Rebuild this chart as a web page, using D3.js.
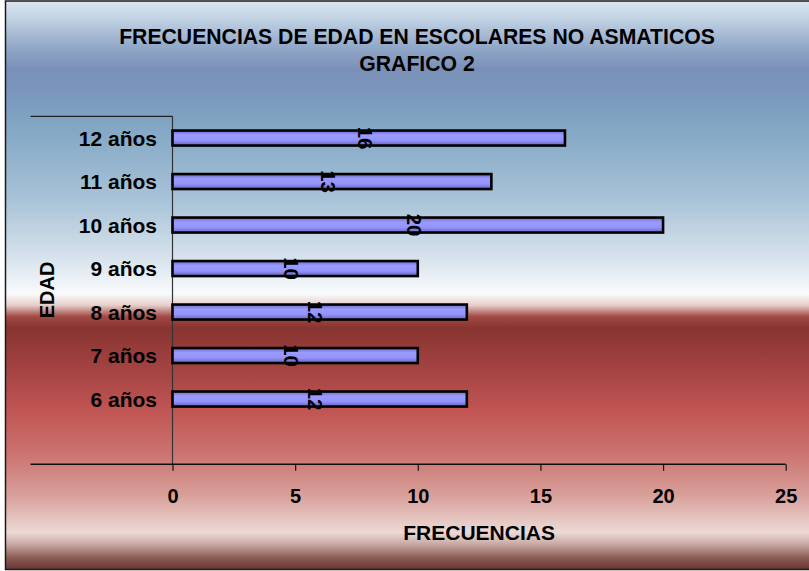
<!DOCTYPE html>
<html>
<head>
<meta charset="utf-8">
<script src="https://cdn.jsdelivr.net/npm/d3@7"></script>
<style>
  html, body { margin: 0; padding: 0; background: #ffffff; }
  svg { display: block; }
  text { font-family: "Liberation Sans", Arial, sans-serif; font-weight: bold; fill: #000; }
</style>
</head>
<body>
<svg id="chart" width="809" height="571"></svg>
<script>
// Age groups (bottom to top as listed) and how many schoolchildren fall in each
const categories = ["6 años", "7 años", "8 años", "9 años", "10 años", "11 años", "12 años"];
const frecuencias = [12, 10, 12, 10, 20, 13, 16];
const xTicks = [0, 5, 10, 15, 20, 25];

const titleLines = ["FRECUENCIAS DE EDAD EN ESCOLARES NO ASMATICOS", "GRAFICO 2"];
const xTitle = "FRECUENCIAS";
const yTitle = "EDAD";

const W = 809, H = 571;
const plot = { left: 172.5, right: 785.7, top: 116.3, bottom: 464.3, frameLeft: 30.5 };

const svg = d3.select("#chart");
const defs = svg.append("defs");

// Chart-area background: blue sky band on top, white horizon, red band below
const bg = defs.append("linearGradient").attr("id", "bgGrad")
  .attr("x1", 0).attr("y1", 0).attr("x2", 0).attr("y2", 1);
[
  [0.00, "#dbe6ef"], [0.03, "#c2d3e4"], [0.08, "#93a9c9"], [0.12, "#7a90b8"],
  [0.17, "#7b99bd"], [0.22, "#82a6c4"], [0.35, "#a8c3d8"], [0.45, "#d6e2ec"],
  [0.515, "#f9fbfc"], [0.535, "#e6cfcb"], [0.555, "#a24a45"], [0.575, "#883431"],
  [0.66, "#a84645"], [0.72, "#c05553"], [0.80, "#cc7572"], [0.87, "#d9a09b"],
  [0.935, "#ecdad6"], [0.955, "#c9aaa5"], [0.98, "#8a5a54"], [1.00, "#693530"]
].forEach(([o, c]) => bg.append("stop").attr("offset", o).attr("stop-color", c));

// Bar fill: slightly darker along top and bottom edges
const barGrad = defs.append("linearGradient").attr("id", "barGrad")
  .attr("x1", 0).attr("y1", 0).attr("x2", 0).attr("y2", 1);
[
  [0.0, "#6c6cc8"], [0.3, "#9a9aff"], [0.65, "#9494fb"], [1.0, "#6565c0"]
].forEach(([o, c]) => barGrad.append("stop").attr("offset", o).attr("stop-color", c));

svg.append("rect")
  .attr("x", 5.5).attr("y", 1).attr("width", W + 20).attr("height", H - 2.5)
  .attr("fill", "url(#bgGrad)").attr("stroke", "#1a1a1a").attr("stroke-width", 1.5);

// Title
svg.append("g").selectAll("text").data(titleLines).join("text")
  .attr("x", 417).attr("y", (d, i) => 44 + i * 26.5)
  .attr("text-anchor", "middle").attr("font-size", "21.2px")
  .text(d => d);

// Scales: one empty slot is left below the lowest age group
const x = d3.scaleLinear().domain([0, 25]).range([plot.left, plot.right]);
const slots = categories.length + 1;
const step = (plot.bottom - plot.top) / slots;
const y = d3.scaleBand()
  .domain(categories.slice().reverse())
  .range([plot.top, plot.top + step * categories.length])
  .paddingInner(0).paddingOuter(0);

// Frame lines around the category labels
svg.append("line")
  .attr("x1", plot.frameLeft).attr("x2", plot.left)
  .attr("y1", plot.top).attr("y2", plot.top)
  .attr("stroke", "#222").attr("stroke-width", 1.2);
svg.append("line")
  .attr("x1", plot.left).attr("x2", plot.left)
  .attr("y1", plot.top).attr("y2", plot.bottom)
  .attr("stroke", "#333").attr("stroke-width", 1.2);

// Value axis
const xAxis = d3.axisBottom(x).tickValues(xTicks).tickSize(6.5).tickSizeOuter(0).tickPadding(0);
const gx = svg.append("g").attr("transform", `translate(0,${plot.bottom})`).call(xAxis);
gx.select(".domain").remove();
gx.selectAll(".tick line").attr("stroke", "#111").attr("stroke-width", 1.2);
gx.selectAll(".tick text").attr("y", 39).attr("dy", 0)
  .attr("font-size", "20px").attr("fill", "#000")
  .attr("font-family", "'Liberation Sans', Arial, sans-serif").attr("font-weight", "bold");
svg.append("line")
  .attr("x1", plot.frameLeft).attr("x2", plot.right)
  .attr("y1", plot.bottom).attr("y2", plot.bottom)
  .attr("stroke", "#111").attr("stroke-width", 1.4);

// Category labels
svg.append("g").selectAll("text").data(categories).join("text")
  .attr("x", 157).attr("y", d => y(d) + y.bandwidth() / 2)
  .attr("dy", "0.36em").attr("text-anchor", "end").attr("font-size", "21px")
  .text(d => d);

// Bars
const barH = 15;
const rows = categories.map((c, i) => ({ c, v: frecuencias[i] }));
svg.append("g").selectAll("rect").data(rows).join("rect")
  .attr("x", x(0))
  .attr("y", d => y(d.c) + y.bandwidth() / 2 - barH / 2)
  .attr("width", d => x(d.v) - x(0))
  .attr("height", barH)
  .attr("fill", "url(#barGrad)")
  .attr("stroke", "#000").attr("stroke-width", 2.6);

// Value labels, rotated to read downward, centred on each bar
svg.append("g").selectAll("text").data(rows).join("text")
  .attr("transform", d => `translate(${(x(0) + x(d.v)) / 2 - 4},${y(d.c) + y.bandwidth() / 2}) rotate(90)`)
  .attr("text-anchor", "middle").attr("dy", "0.35em").attr("font-size", "20.5px")
  .text(d => d.v);

// Axis titles
svg.append("text")
  .attr("x", (plot.left + plot.right) / 2).attr("y", 539.5)
  .attr("text-anchor", "middle").attr("font-size", "21px")
  .text(xTitle);
svg.append("text")
  .attr("transform", "translate(54,290) rotate(-90)")
  .attr("text-anchor", "middle").attr("font-size", "20px")
  .text(yTitle);
</script>
</body>
</html>
